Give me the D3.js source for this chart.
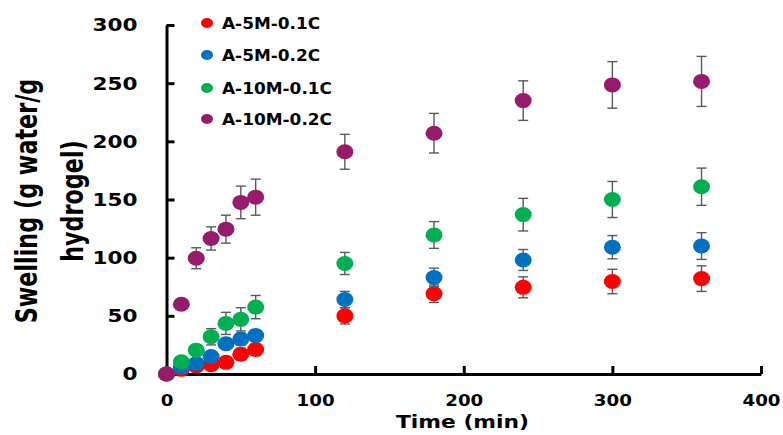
<!DOCTYPE html>
<html>
<head>
  <meta charset="UTF-8">
  <title>Swelling vs time</title>
  <script src="https://d3js.org/d3.v7.min.js"></script>
  <style>
    body { margin: 0; background: #fff; }
    text { font-family: "DejaVu Sans", sans-serif; font-weight: bold; fill: #000; }
  </style>
</head>
<body>
  <div id="chart"></div>
  <script>
    // time points (min)
    const times = [0, 10, 20, 30, 40, 50, 60, 120, 180, 240, 300, 360];

    // series names + colours
    const seriesNames = ["A-5M-0.1C", "A-5M-0.2C", "A-10M-0.1C", "A-10M-0.2C"];
    const seriesColors = ["#ff0000", "#0070c0", "#00b050", "#981a6b"];

    // swelling values (g water / g hydrogel)
    const red5m01 = [0, 4, 7, 8, 10, 17, 21, 50, 69, 74.5, 79.5, 82];
    const blue5m02 = [0, 6, 9, 15, 26, 30, 33, 64, 83, 98, 109, 110];
    const green10m01 = [0, 10.5, 20.5, 32, 43.5, 47, 57.5, 95, 119.5, 137, 150, 161];
    const purple10m02 = [0, 60, 99.5, 116.5, 124.5, 147.5, 152, 191, 207, 235, 248.5, 251.5];

    // error bars (+/-)
    const red5m01Err = [0, 1.5, 2, 2, 3, 5, 5, 7, 7.5, 9, 10.5, 11];
    const blue5m02Err = [0, 2, 2, 3, 4, 5, 5, 7, 8, 9, 10, 11.5];
    const green10m01Err = [0, 2, 3, 7, 9.5, 10, 10, 9.5, 11.5, 14, 15.5, 16];
    const purple10m02Err = [0, 2, 9, 10, 12, 14, 15.5, 15, 17, 17, 20, 21.5];

    const xTicks = [0, 100, 200, 300, 400];
    const yTicks = [0, 50, 100, 150, 200, 250, 300];

    const allValues = [red5m01, blue5m02, green10m01, purple10m02];
    const allErrs = [red5m01Err, blue5m02Err, green10m01Err, purple10m02Err];

    const W = 783, H = 435;
    const svg = d3.select("#chart").append("svg")
      .attr("width", W).attr("height", H);

    const x = d3.scaleLinear().domain([0, 400]).range([166.5, 761]);
    const y = d3.scaleLinear().domain([0, 300]).range([374, 25]);

    // Y axis
    const yAxis = svg.append("g")
      .attr("transform", `translate(${x(0)},0)`)
      .call(d3.axisLeft(y).tickValues(yTicks).tickSizeInner(-8).tickSizeOuter(0).tickPadding(24.5));
    yAxis.select(".domain").attr("stroke", "#000").attr("stroke-width", 3);
    yAxis.selectAll(".tick line").attr("stroke", "#000").attr("stroke-width", 3);
    yAxis.selectAll(".tick text")
      .attr("font-size", 18.3).attr("font-family", null)
      .attr("transform", "scale(1.18,1)");

    // X axis
    const xAxis = svg.append("g")
      .attr("transform", `translate(0,${y(0)})`)
      .call(d3.axisBottom(x).tickValues(xTicks).tickSizeInner(-8).tickSizeOuter(0).tickPadding(20.5));
    xAxis.select(".domain").attr("stroke", "#000").attr("stroke-width", 3);
    xAxis.selectAll(".tick line").attr("stroke", "#000").attr("stroke-width", 3);
    xAxis.selectAll(".tick text")
      .attr("font-size", 16).attr("font-family", null)
      .attr("transform", "scale(1.14,1)");

    // axis titles
    svg.append("text")
      .attr("transform", "translate(462.5,427.5) scale(1.18,1)")
      .attr("text-anchor", "middle").attr("font-size", 18.5)
      .text("Time (min)");

    svg.append("text")
      .attr("transform", "translate(37,201) rotate(-90) scale(1,1.33)")
      .attr("text-anchor", "middle").attr("font-size", 22.3)
      .text("Swelling (g water/g");
    svg.append("text")
      .attr("transform", "translate(83,201) rotate(-90) scale(1,1.33)")
      .attr("text-anchor", "middle").attr("font-size", 22.3)
      .text("hydrogel)");

    // series: error bars then markers
    allValues.forEach((vals, si) => {
      const errs = allErrs[si];
      const pts = times.map((t, i) => ({ t: t, v: vals[i], e: errs[i] }));
      const g = svg.append("g");

      const eb = g.selectAll(".eb").data(pts.filter(d => d.e > 0)).join("g")
        .attr("stroke", "#595959").attr("stroke-width", 1.4);
      eb.append("line")
        .attr("x1", d => x(d.t)).attr("x2", d => x(d.t))
        .attr("y1", d => y(d.v + d.e)).attr("y2", d => y(d.v - d.e));
      eb.append("line")
        .attr("x1", d => x(d.t) - 5).attr("x2", d => x(d.t) + 5)
        .attr("y1", d => y(d.v + d.e)).attr("y2", d => y(d.v + d.e));
      eb.append("line")
        .attr("x1", d => x(d.t) - 5).attr("x2", d => x(d.t) + 5)
        .attr("y1", d => y(d.v - d.e)).attr("y2", d => y(d.v - d.e));

      g.selectAll("ellipse").data(pts).join("ellipse")
        .attr("cx", d => x(d.t)).attr("cy", d => y(d.v))
        .attr("rx", 8.5).attr("ry", 7.5)
        .attr("fill", seriesColors[si]);
    });

    // legend
    const legendY = [23, 55, 88, 119];
    const legend = svg.append("g");
    seriesNames.forEach((name, i) => {
      legend.append("ellipse")
        .attr("cx", 207).attr("cy", legendY[i])
        .attr("rx", 6).attr("ry", 5)
        .attr("fill", seriesColors[i]);
      legend.append("text")
        .attr("transform", `translate(222,${legendY[i]}) scale(1.06,1)`)
        .attr("dy", "0.36em").attr("font-size", 16)
        .text(name);
    });
  </script>
</body>
</html>
